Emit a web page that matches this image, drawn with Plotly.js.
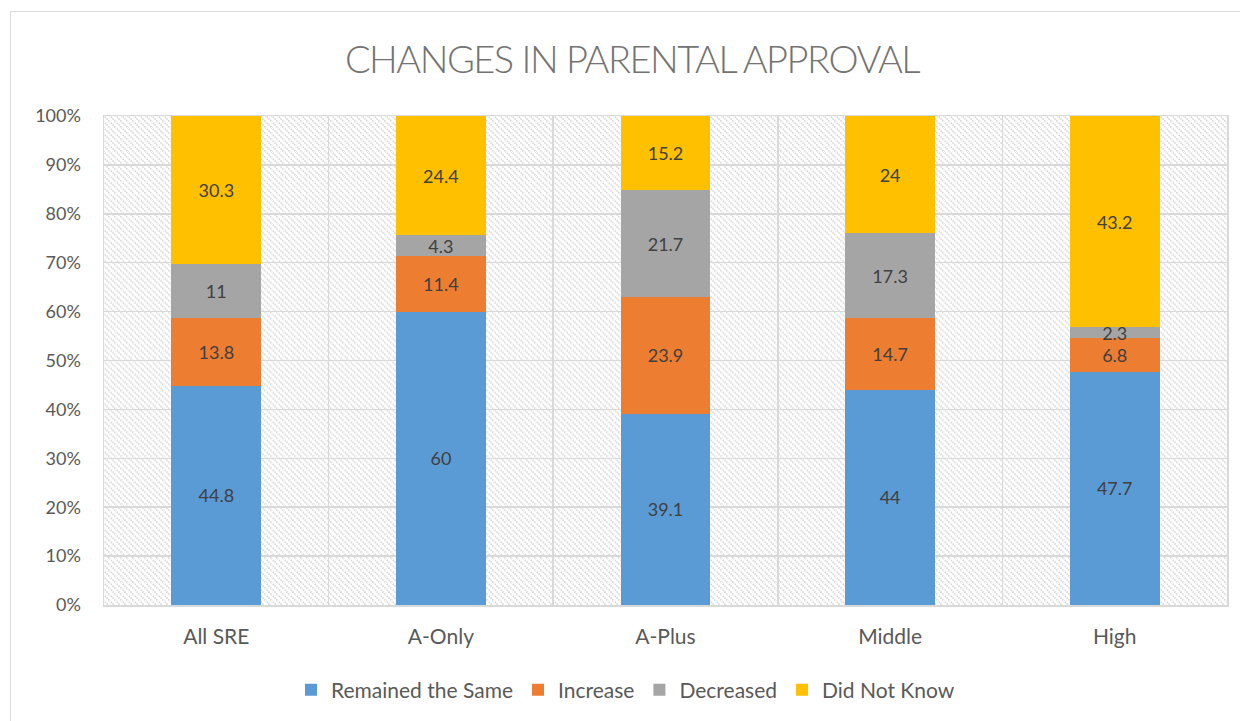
<!DOCTYPE html>
<html>
<head>
<meta charset="utf-8">
<script src="https://cdn.plot.ly/plotly-3.0.1.min.js"></script>
<style>
  html, body { margin: 0; padding: 0; background: #fff; }
  #wrap { position: relative; width: 1240px; height: 721px; overflow: hidden; }
  #chart { position: absolute; left: 0; top: 0; width: 1240px; height: 721px; }
  #frame { position: absolute; left: 10px; top: 11px; width: 1260px; height: 740px;
           border: 1.5px solid #d9d9d9; pointer-events: none; box-sizing: border-box; }
  #chart .gtitle { letter-spacing: -1.5px; }
</style>
</head>
<body>
<div id="wrap"><div id="chart"></div><div id="frame"></div></div>
<script>
const categories = ["All SRE", "A-Only", "A-Plus", "Middle", "High"];
const remainedSame = [44.8, 60, 39.1, 44, 47.7];
const increase = [13.8, 11.4, 23.9, 14.7, 6.8];
const decreased = [11, 4.3, 21.7, 17.3, 2.3];
const didNotKnow = [30.3, 24.4, 15.2, 24, 43.2];
const seriesNames = ["Remained the Same", "Increase", "Decreased", "Did Not Know"];
const seriesColors = ["#5B9BD5", "#ED7D31", "#A5A5A5", "#FFC000"];
const seriesValues = [remainedSame, increase, decreased, didNotKnow];

const W = 1240, H = 721;
const margin = { l: 104, r: 13, t: 116, b: 115 };
const pw = W - margin.l - margin.r, ph = H - margin.t - margin.b;

const patternSvg =
  '<svg xmlns="http://www.w3.org/2000/svg" width="' + pw + '" height="' + ph + '">' +
  '<defs><pattern id="p" patternUnits="userSpaceOnUse" width="6" height="6">' +
  '<path d="M-1,-1 L7,7 M-1,5 L1,7 M5,-1 L7,1" stroke="#d4d4d4" stroke-width="1.6" stroke-dasharray="1.5,1"/>' +
  '</pattern></defs><rect width="100%" height="100%" fill="#fff"/>' +
  '<rect width="100%" height="100%" fill="url(#p)"/></svg>';
const patternUri = 'data:image/svg+xml;charset=utf-8,' + encodeURIComponent(patternSvg);

const FONT = "Lato, 'Open Sans', sans-serif";

const traces = seriesValues.map((vals, i) => ({
  type: 'bar',
  name: seriesNames[i],
  x: categories,
  y: vals,
  text: vals.map(v => String(v)),
  textposition: 'inside',
  insidetextanchor: 'middle',
  textangle: 0,
  constraintext: 'none',
  textfont: { family: FONT, size: 18, color: '#404040' },
  marker: { color: seriesColors[i], line: { width: 0 } },
  hoverinfo: 'none'
}));

const layout = {
  width: W, height: H,
  margin: margin,
  paper_bgcolor: 'rgba(0,0,0,0)',
  plot_bgcolor: '#ffffff',
  barmode: 'stack',
  barnorm: 'percent',
  bargap: 0.6,
  uniformtext: { minsize: 18, mode: 'show' },
  title: {
    text: 'CHANGES IN PARENTAL APPROVAL',
    x: 632 / W, xanchor: 'center',
    y: 1 - 60 / H, yref: 'container', yanchor: 'middle',
    font: { family: FONT, size: 38, color: '#737373', weight: 300 }
  },
  xaxis: {
    type: 'category',
    tickson: 'boundaries',
    ticks: '',
    showgrid: true,
    gridcolor: '#d9d9d9',
    gridwidth: 1.5,
    showline: true, mirror: true, linecolor: '#d9d9d9', linewidth: 1.5,
    tickfont: { family: FONT, size: 21, color: '#595959' },
    ticklabelstandoff: 12,
    fixedrange: true
  },
  yaxis: {
    range: [0, 100],
    dtick: 10,
    ticksuffix: '%',
    ticks: '',
    showgrid: true,
    gridcolor: '#d9d9d9',
    gridwidth: 1.5,
    zeroline: false,
    showline: true, mirror: true, linecolor: '#d9d9d9', linewidth: 1.5,
    tickfont: { family: FONT, size: 18, color: '#595959' },
    ticklabelstandoff: 18,
    fixedrange: true
  },
  legend: {
    orientation: 'h',
    x: 0.5 - 40 / pw, xanchor: 'center',
    y: -(690 - (H - margin.b)) / ph, yanchor: 'middle',
    font: { family: FONT, size: 21, color: '#595959' },
    itemwidth: 30,
    traceorder: 'normal'
  },
  images: [{
    source: patternUri,
    xref: 'paper', yref: 'paper',
    x: 0, y: 1, sizex: 1, sizey: 1,
    xanchor: 'left', yanchor: 'top',
    sizing: 'stretch', layer: 'below'
  }],
  showlegend: true
};

Plotly.newPlot('chart', traces, layout, { displayModeBar: false, staticPlot: true });
</script>
</body>
</html>
